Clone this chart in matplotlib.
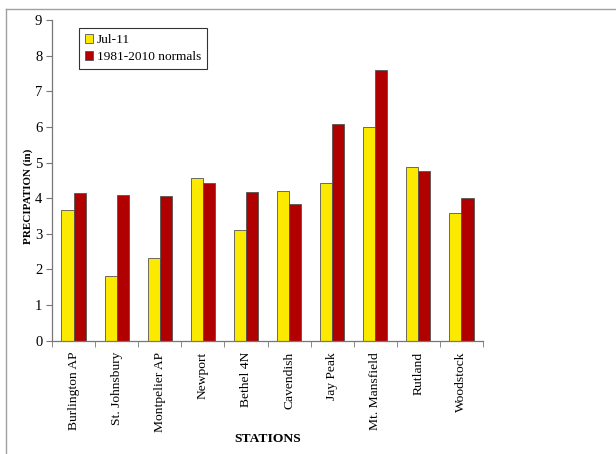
import numpy as np
import matplotlib
matplotlib.use("Agg")
import matplotlib.pyplot as plt
from matplotlib.lines import Line2D
import matplotlib.transforms as mtransforms

stations = ["Burlington AP", "St. Johnsbury", "Montpelier AP", "Newport", "Bethel 4N",
            "Cavendish", "Jay Peak", "Mt. Mansfield", "Rutland", "Woodstock"]
jul11 = [3.68, 1.81, 2.31, 4.57, 3.12, 4.19, 4.43, 5.99, 4.88, 3.58]
normals = [4.15, 4.10, 4.06, 4.42, 4.16, 3.85, 6.08, 7.61, 4.77, 4.00]
series_names = ["Jul-11", "1981-2010 normals"]
yticks = list(range(0, 10))

plt.rcParams['font.family'] = ['Liberation Serif', 'DejaVu Serif']

fig = plt.figure(figsize=(6.16, 4.54), dpi=100)
ax = fig.add_axes([52/616, 1 - 340.7/454, (483-52)/616, (340.7-20)/454])

x = np.arange(len(stations))
w = 0.28
ax.bar(x - w/2, jul11, w, color="#FBE900", edgecolor="#555555", linewidth=0.6, label=series_names[0])
ax.bar(x + w/2, normals, w, color="#B00000", edgecolor="#555555", linewidth=0.6, label=series_names[1])

ax.set_xlim(-0.5, len(stations) - 0.5)
ax.set_ylim(0, 9)
ax.set_yticks(yticks)
ax.set_yticklabels([str(t) for t in yticks], fontsize=10.5)
ax.set_xticks(x)
ax.set_xticklabels(stations, rotation=90, fontsize=9.7)
offset = mtransforms.ScaledTranslation(5/100, 0, fig.dpi_scale_trans)
for lab in ax.get_xticklabels():
    lab.set_transform(lab.get_transform() + offset)
ax.tick_params(axis='x', which='major', length=0, pad=8)
ax.set_xticks(np.arange(-0.5, len(stations), 1.0), minor=True)
ax.tick_params(axis='x', which='minor', length=4, direction='out', color='#777777')
ax.tick_params(axis='y', length=4, direction='out', color='#777777', pad=3)

for s in ['top', 'right']:
    ax.spines[s].set_visible(False)
for s in ['left', 'bottom']:
    ax.spines[s].set_color('#777777')
    ax.spines[s].set_linewidth(0.9)

ax.set_ylabel("PRECIPATION (in)", fontsize=8, fontweight='bold')
ax.yaxis.set_label_coords(-0.045, 0.45)
ax.set_xlabel("STATIONS", fontsize=9.7, fontweight='bold')
ax.xaxis.set_label_coords(0.5, -0.288)

leg = ax.legend(loc='upper left', bbox_to_anchor=(0.063, 0.975), fontsize=9.6,
                frameon=True, fancybox=False, edgecolor='black', handlelength=0.6,
                handleheight=0.6, handletextpad=0.3, borderpad=0.45, labelspacing=0.4,
                borderaxespad=0)
leg.get_frame().set_linewidth(0.8)

# outer chart-area border (left and top visible)
fig.add_artist(Line2D([6/616, 6/616], [0, 1 - 9/454], transform=fig.transFigure,
                      color='#A0A0A0', linewidth=1.0))
fig.add_artist(Line2D([6/616, 1], [1 - 9/454, 1 - 9/454], transform=fig.transFigure,
                      color='#A0A0A0', linewidth=1.0))

fig.savefig("out.png", dpi=100)
